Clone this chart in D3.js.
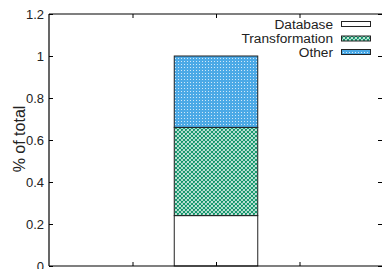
<!DOCTYPE html>
<html><head><meta charset="utf-8">
<script src="https://cdn.jsdelivr.net/npm/d3@7"></script>
<style>html,body{margin:0;padding:0;background:#fff;}svg{display:block;}</style>
</head><body>
<script>
const categories = ["Database", "Transformation", "Other"];
const barPositions = [2];
const values = {Database: [0.24], Transformation: [0.42], Other: [0.34]};
const yTicks = [0, 0.2, 0.4, 0.6, 0.8, 1, 1.2];
const yTickLabels = ["0", "0.2", "0.4", "0.6", "0.8", "1", "1.2"];
const xTicks = [1, 2, 3];

const W = 382, H = 269;
const FONT = "Liberation Sans, Arial, sans-serif";
const svg = d3.select("body").append("svg").attr("width", W).attr("height", H);
const defs = svg.append("defs");

// patterns
const pg = defs.append("pattern").attr("id", "pGreen").attr("patternUnits", "userSpaceOnUse")
  .attr("width", 4).attr("height", 4);
pg.append("rect").attr("width", 4).attr("height", 4).attr("fill", "#fff");
pg.append("path").attr("d", "M0,0L4,4M4,0L0,4M-1,3L1,5M3,-1L5,1M-1,1L1,-1M3,5L5,3")
  .attr("stroke", "#11956a").attr("stroke-width", 1.2).attr("fill", "none");

const pb = defs.append("pattern").attr("id", "pBlue").attr("patternUnits", "userSpaceOnUse")
  .attr("width", 3).attr("height", 3);
pb.append("rect").attr("width", 3).attr("height", 3).attr("fill", "#4ba9e6");
pb.append("rect").attr("x", 1).attr("y", 1).attr("width", 1).attr("height", 1).attr("fill", "#cfe8f8");

const fills = {Database: "#fff", Transformation: "url(#pGreen)", Other: "url(#pBlue)"};

const x = d3.scaleLinear().domain([0, 4]).range([49, 383]);
const y = d3.scaleLinear().domain([0, 1.2]).range([266, 14]);

// bars
const stack = d3.stack().keys(categories);
const rows = barPositions.map((p, i) => {
  const r = {pos: p};
  categories.forEach(c => r[c] = values[c][i]);
  return r;
});
const series = stack(rows);
const bw = x(1) - x(0);
series.forEach(s => {
  svg.selectAll(null).data(s).enter().append("rect")
    .attr("x", d => x(d.data.pos) - bw / 2)
    .attr("y", d => y(d[1]))
    .attr("width", bw)
    .attr("height", d => y(d[0]) - y(d[1]))
    .attr("fill", fills[s.key])
    .attr("stroke", "#222").attr("stroke-width", 1);
});

// frame
const g = svg.append("g");
g.append("line").attr("x1", x(0)).attr("x2", x(4)).attr("y1", y(1.2)).attr("y2", y(1.2)).attr("stroke", "#000").attr("stroke-width", 1.2);
g.append("line").attr("x1", x(0)).attr("x2", x(4)).attr("y1", y(0)).attr("y2", y(0)).attr("stroke", "#000").attr("stroke-width", 1.2);
g.append("line").attr("x1", x(0)).attr("x2", x(0)).attr("y1", y(0)).attr("y2", y(1.2)).attr("stroke", "#000").attr("stroke-width", 1.2);

// y axis
const yAxis = d3.axisLeft(y).tickValues(yTicks).tickFormat((d, i) => yTickLabels[i]).tickSizeInner(-4).tickSizeOuter(0).tickPadding(5);
const ya = svg.append("g").attr("transform", `translate(${x(0)},0)`).call(yAxis);
ya.select(".domain").remove();
ya.selectAll("text").attr("font-family", FONT).attr("font-size", 13).attr("fill", "#222");
ya.selectAll("line").attr("stroke", "#000");
// right mirror ticks
const yr = d3.axisRight(y).tickValues(yTicks).tickFormat("").tickSizeInner(-4).tickSizeOuter(0);
const yra = svg.append("g").attr("transform", `translate(${x(4) - 1},0)`).call(yr);
yra.select(".domain").remove();

// x ticks bottom and top (no labels)
const xb = d3.axisBottom(x).tickValues(xTicks).tickFormat("").tickSizeInner(-4).tickSizeOuter(0);
const xba = svg.append("g").attr("transform", `translate(0,${y(0)})`).call(xb);
xba.select(".domain").remove();
const xt = d3.axisTop(x).tickValues(xTicks).tickFormat("").tickSizeInner(-4).tickSizeOuter(0);
const xta = svg.append("g").attr("transform", `translate(0,${y(1.2)})`).call(xt);
xta.select(".domain").remove();

// y label
svg.append("text").attr("transform", "translate(25,139) rotate(-90)")
  .attr("text-anchor", "middle").attr("font-family", FONT)
  .attr("font-size", 16).attr("fill", "#222").text("% of total");

// legend
const legY = [24, 38.5, 52];
categories.forEach((c, i) => {
  svg.append("text").attr("x", 333).attr("y", legY[i]).attr("dy", "0.35em")
    .attr("text-anchor", "end").attr("font-family", FONT)
    .attr("font-size", 13.7).attr("fill", "#222").text(c);
  svg.append("rect").attr("x", 341.5).attr("y", legY[i] - 2.5).attr("width", 29).attr("height", 5)
    .attr("fill", fills[c]).attr("stroke", "#222").attr("stroke-width", 1);
});
</script>
</body></html>
